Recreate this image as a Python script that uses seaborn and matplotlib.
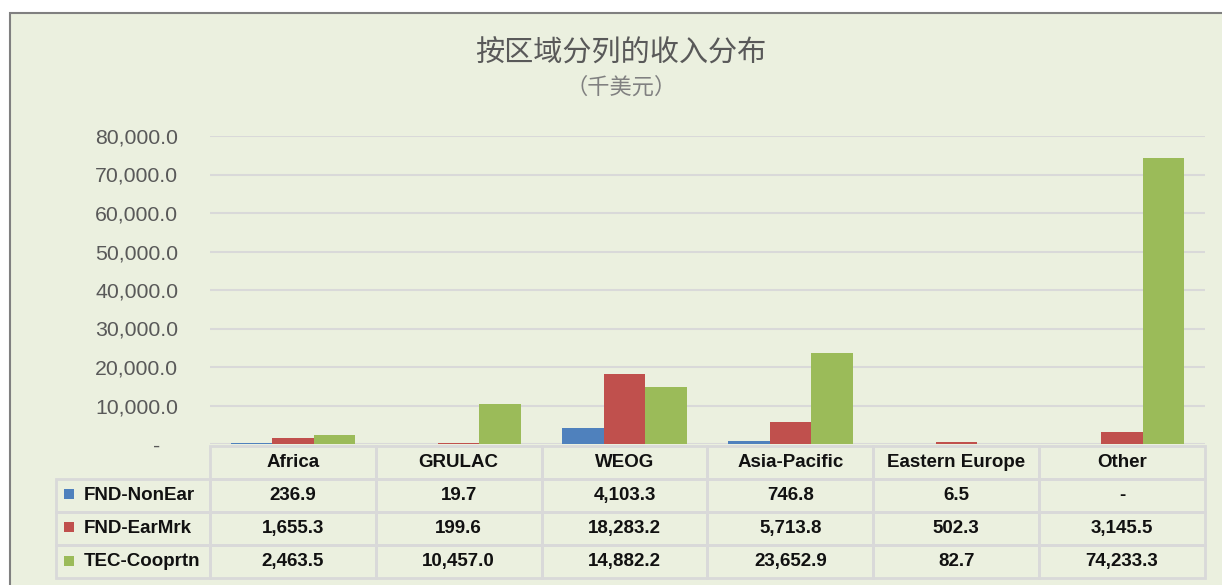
import matplotlib
matplotlib.use("Agg")
import matplotlib.pyplot as plt
import seaborn as sns
import pandas as pd
from matplotlib.patches import Rectangle

# data (thousand USD)
regions = ["Africa", "GRULAC", "WEOG", "Asia-Pacific", "Eastern Europe", "Other"]
series = ["FND-NonEar", "FND-EarMrk", "TEC-Cooprtn"]
fnd_nonear = [236.9, 19.7, 4103.3, 746.8, 6.5, 0.0]
fnd_earmrk = [1655.3, 199.6, 18283.2, 5713.8, 502.3, 3145.5]
tec_cooprtn = [2463.5, 10457.0, 14882.2, 23652.9, 82.7, 74233.3]
colors = ["#4F81BD", "#C0504D", "#9BBB59"]
yticks = [0, 10000, 20000, 30000, 40000, 50000, 60000, 70000, 80000]

values = [fnd_nonear, fnd_earmrk, tec_cooprtn]
df = pd.DataFrame({
    "region": regions * 3,
    "series": [s for s in series for _ in regions],
    "value": fnd_nonear + fnd_earmrk + tec_cooprtn,
})

sns.set_theme(style="white")
plt.rcParams["font.family"] = ["Liberation Sans", "DejaVu Sans"]

W, H = 1222, 585
fig = plt.figure(figsize=(W / 100, H / 100), dpi=100)
fig.patch.set_facecolor("white")

# chart area background + border
fig.patches.append(Rectangle((10 / W, -0.05), 1.1, (H - 13) / H + 0.05,
                             transform=fig.transFigure, facecolor="#EBF0DF",
                             edgecolor="#808080", linewidth=1.5, zorder=-10))

left, right, top, bottom = 210, 1205, 136, 444
ax = fig.add_axes([left / W, 1 - bottom / H, (right - left) / W, (bottom - top) / H])
ax.set_facecolor("none")

sns.barplot(data=df, x="region", y="value", hue="series", palette=colors,
            saturation=1, width=0.75, linewidth=0, legend=False, ax=ax, zorder=3)

ax.set_ylim(0, 80000)
ax.set_yticks(yticks)
ax.set_yticklabels(["-   " if v == 0 else f"{v:,.1f}" for v in yticks],
                   fontsize=15.3, color="#595959")
ax.tick_params(axis="y", length=0, pad=23)
ax.set_xticks([])
ax.set_xlabel("")
ax.set_ylabel("")
for s in ax.spines.values():
    s.set_visible(False)
ax.yaxis.grid(True, color="#D9D9D9", linewidth=1.5, zorder=0)
ax.set_axisbelow(True)

# data table below the plot (first column holds the series names)
cell_text = [[name] + ["-" if v == 0 else f"{v:,.1f}" for v in row]
             for name, row in zip(series, values)]
x0 = (56 - left) / (right - left)
tw = (1205 - 56) / (right - left)
th = (578 - 446) / (bottom - top)
ty = -(578 - bottom) / (bottom - top)
tab = ax.table(cellText=cell_text, colLabels=[""] + regions,
               colWidths=[154] + [166] * 6, cellLoc="center",
               bbox=[x0, ty, tw, th])
tab.auto_set_font_size(False)
for (r, c), cell in tab.get_celld().items():
    cell.set_edgecolor("#D9D9D9")
    cell.set_linewidth(2)
    cell.set_facecolor("none")
    txt = cell.get_text()
    txt.set_fontweight("bold")
    txt.set_color("#111111")
    txt.set_fontsize(13.5)
    if r == 0 and c == 0:
        cell.visible_edges = ""
    elif c == 0:
        cell._loc = "left"
        cell.PAD = 0.18
        txt.set_ha("left")

# legend keys inside the row labels
row_centers = [494, 527, 561]
for yc, col in zip(row_centers, colors):
    fig.patches.append(Rectangle((64 / W, 1 - (yc + 5) / H), 10 / W, 10 / H,
                                 transform=fig.transFigure, facecolor=col,
                                 edgecolor="none", zorder=5))

fig.text(621 / W, 1 - 54 / H, "按区域分列的收入分布", ha="center", va="center",
         fontsize=21, color="#595959", fontweight="medium",
         family=["Noto Sans CJK SC", "DejaVu Sans"])
fig.text(621 / W, 1 - 87 / H, "（千美元）", ha="center", va="center",
         fontsize=16, color="#808080", family=["Noto Sans CJK SC", "DejaVu Sans"])

fig.savefig("out.png", dpi=100)
